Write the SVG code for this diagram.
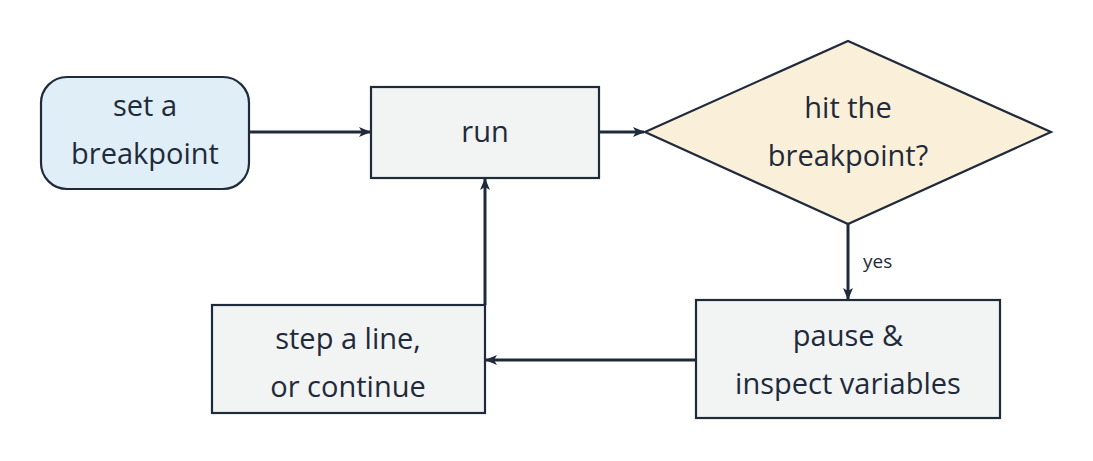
<svg xmlns="http://www.w3.org/2000/svg" width="1093" height="461" viewBox="0 0 1093 461">
<defs>
<style>
.n{stroke:#1f2a3a;stroke-width:2.2}
.t{font-family:"Open Sans","DejaVu Sans",sans-serif;font-size:29px;fill:#1f2a3a;text-anchor:middle}
.c{stroke:#1f2a3a;stroke-width:3;fill:none;marker-end:url(#a)}
</style>
<marker id="a" viewBox="0 0 12 10" refX="11" refY="5" markerWidth="12" markerHeight="10" markerUnits="userSpaceOnUse" orient="auto">
<path d="M0,0 L12,5 L0,10 L3,5 Z" fill="#1f2a3a"/>
</marker>
</defs>
<rect width="1093" height="461" fill="#fff"/>
<g id="start"><rect class="n" x="41" y="77" width="208" height="112" rx="26" fill="#e0eff7"/>
<text class="t" x="145" y="116">set a</text><text class="t" x="145" y="164">breakpoint</text></g>
<g id="run"><rect class="n" x="371" y="87" width="228" height="91" fill="#f2f4f3"/>
<text class="t" x="485" y="142">run</text></g>
<g id="hit"><polygon class="n" points="645,132 848,41 1051,132 848,224" fill="#faefd9"/>
<text class="t" x="848" y="118">hit the</text><text class="t" x="848" y="166">breakpoint?</text></g>
<g id="pause"><rect class="n" x="696" y="300" width="304" height="118" fill="#f2f4f3"/>
<text class="t" x="848" y="346">pause &amp;</text><text class="t" x="848" y="394">inspect variables</text></g>
<g id="step"><rect class="n" x="212" y="305" width="273" height="108" fill="#f2f4f3"/>
<text class="t" x="348" y="349">step a line,</text><text class="t" x="348" y="397">or continue</text></g>
<g id="connectors">
<path class="c" d="M249,132 H370"/>
<path class="c" d="M599,132 H644"/>
<path class="c" d="M848,224 V299"/>
<text x="863" y="268" style="font-family:'Open Sans','DejaVu Sans',sans-serif;font-size:19px;fill:#1f2a3a">yes</text>
<path class="c" d="M696,360 H486"/>
<path class="c" d="M485,305 V179"/>
</g>
</svg>
